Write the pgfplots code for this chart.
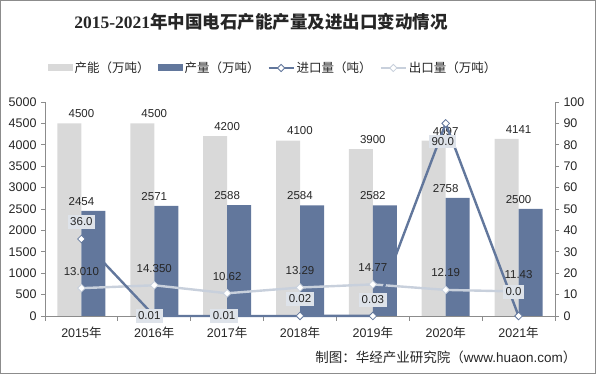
\documentclass[border=0pt]{standalone}
\usepackage{pgfplots}
\pgfplotsset{compat=1.18}
\usepackage{pgfplotstable}
\usepackage{fontspec}
\setmainfont{Liberation Sans}
\newfontfamily\cjk{Noto Sans CJK SC}
\newfontfamily\serifb{Liberation Serif}
\definecolor{capgray}{HTML}{D9D9D9}
\definecolor{prodblue}{HTML}{62779C}
\definecolor{explight}{HTML}{C8D0DC}
\definecolor{boxfill}{HTML}{DEE3EA}
\definecolor{axgray}{HTML}{8C8C8C}
\definecolor{txt}{HTML}{262626}
\newcommand{\nian}{{\cjk 年}}
\pgfplotsset{/pgf/number format/.cd, set thousands separator={}, assume math mode=true}

\pgfplotstableread{
x cap prod
0 4500 2454
1 4500 2571
2 4200 2588
3 4100 2584
4 3900 2582
5 4097 2758
6 4141 2500
}\bars

\pgfplotstableread{
x imp lab dx dy
0 36.0 36.0 0 17
1 0.01 0.01 -5 0
2 0.01 0.01 -3 0
3 0.02 0.02 0 17
4 0.03 0.03 0 16
5 90.0 90.0 -3 -18
6 0.0 0.0 -5 24
}\imp

\pgfplotstableread{
x exp lab
0 13.01 13.010
1 14.35 14.350
2 10.62 10.62
3 13.29 13.29
4 14.77 14.77
5 12.19 12.19
6 11.43 11.43
}\expt

\begin{document}
\begin{tikzpicture}[x=1pt,y=1pt]
\useasboundingbox (0,0) rectangle (596,374);
\draw[axgray, line width=0.8pt] (0.5,0.5) rectangle (595.5,373.5);
\node[text=txt] at (261,352) {\fontsize{17.5}{20}\selectfont{\serifb\bfseries 2015-2021}{\cjk\bfseries 年中国电石产能产量及进出口变动情况}};
\node[anchor=east, text=txt] at (580,17) {\fontsize{13.5}{15}\selectfont{\cjk 制图：华经产业研究院（}www.huaon.com{\cjk ）}};

\begin{axis}[
  at={(45pt,58pt)}, anchor=south west,
  scale only axis, width=510pt, height=214pt,
  xmin=-0.5, xmax=6.5, ymin=0, ymax=5000,
  axis y line*=left, axis x line*=bottom,
  axis line style={axgray, line width=0.8pt},
  xtick={0,...,6},
  xticklabels={2015\nian,2016\nian,2017\nian,2018\nian,2019\nian,2020\nian,2021\nian},
  major x tick style={draw=none},
  minor xtick={-0.5,0.5,...,6.5},
  minor tick length=5pt,
  ytick={0,500,...,5000},
  major tick length=4pt,
  tick align=outside,
  tick style={axgray, line width=0.8pt},
  ticklabel style={font=\fontsize{12.5}{14}\selectfont, text=txt},
  yticklabel style={xshift=-1pt},
  xticklabel style={yshift=-3pt},
  legend columns=4,
  legend style={draw=none, fill=none, at={(0.447,1.159)}, anchor=center,
    font=\cjk\fontsize{12.5}{14}\selectfont, text=txt,
    /tikz/every even column/.append style={column sep=6pt}},
  nodes near coords,
  every node near coord/.append style={font=\fontsize{11.5}{13}\selectfont, text=txt, yshift=2pt},
]
\addplot[ybar, bar width=24pt, bar shift=-12pt, fill=capgray, draw=none,
  legend image code/.code={\fill[capgray] (0pt,-3.5pt) rectangle (25pt,3.5pt);}]
  table[x=x, y=cap]{\bars};
\addlegendentry{产能（万吨）}
\addplot[ybar, bar width=24pt, bar shift=12pt, fill=prodblue, draw=none,
  legend image code/.code={\fill[prodblue] (0pt,-3.5pt) rectangle (25pt,3.5pt);}]
  table[x=x, y=prod]{\bars};
\addlegendentry{产量（万吨）}
\addlegendimage{legend image code/.code={
  \draw[prodblue, line width=2.2pt] (0pt,0pt) -- (25pt,0pt);
  \draw[prodblue, fill=white, line width=0.8pt] (12.5pt,3.6pt) -- (16.1pt,0pt) -- (12.5pt,-3.6pt) -- (8.9pt,0pt) -- cycle;}}
\addlegendentry{进口量（吨）}
\addlegendimage{legend image code/.code={
  \draw[explight, line width=2.2pt] (0pt,0pt) -- (25pt,0pt);
  \draw[explight, fill=white, line width=0.8pt] (12.5pt,3.6pt) -- (16.1pt,0pt) -- (12.5pt,-3.6pt) -- (8.9pt,0pt) -- cycle;}}
\addlegendentry{出口量（万吨）}
\end{axis}

\begin{axis}[
  at={(45pt,58pt)}, anchor=south west,
  scale only axis, width=510pt, height=214pt,
  xmin=-0.5, xmax=6.5, ymin=0, ymax=100,
  axis y line*=right, axis x line=none,
  axis line style={axgray, line width=0.8pt},
  ytick={0,10,...,100},
  major tick length=4pt,
  tick align=outside,
  tick style={axgray, line width=0.8pt},
  ticklabel style={font=\fontsize{12.5}{14}\selectfont, text=txt},
  yticklabel style={xshift=1pt},
  clip=false,
]
\addplot[explight, line width=2.4pt, mark=square*, mark size=2.7pt,
  mark options={rotate=45, fill=white, draw=explight, line width=0.8pt},
  nodes near coords, point meta=explicit symbolic,
  every node near coord/.append style={anchor=center, yshift=17pt,
    font=\fontsize{11.5}{13}\selectfont, text=txt}]
  table[x=x, y=exp, meta=lab]{\expt};
\addplot[prodblue, line width=2.4pt, mark=square*, mark size=2.7pt,
  mark options={rotate=45, fill=white, draw=prodblue, line width=0.8pt},
  nodes near coords, point meta=explicit symbolic,
  visualization depends on={\thisrow{dx} \as \dx},
  visualization depends on={\thisrow{dy} \as \dy},
  every node near coord/.append style={anchor=center, xshift=\dx pt, yshift=\dy pt,
    fill=boxfill, inner sep=2.5pt, font=\fontsize{11.5}{13}\selectfont, text=txt}]
  table[x=x, y=imp, meta=lab]{\imp};
\end{axis}
\end{tikzpicture}
\end{document}
